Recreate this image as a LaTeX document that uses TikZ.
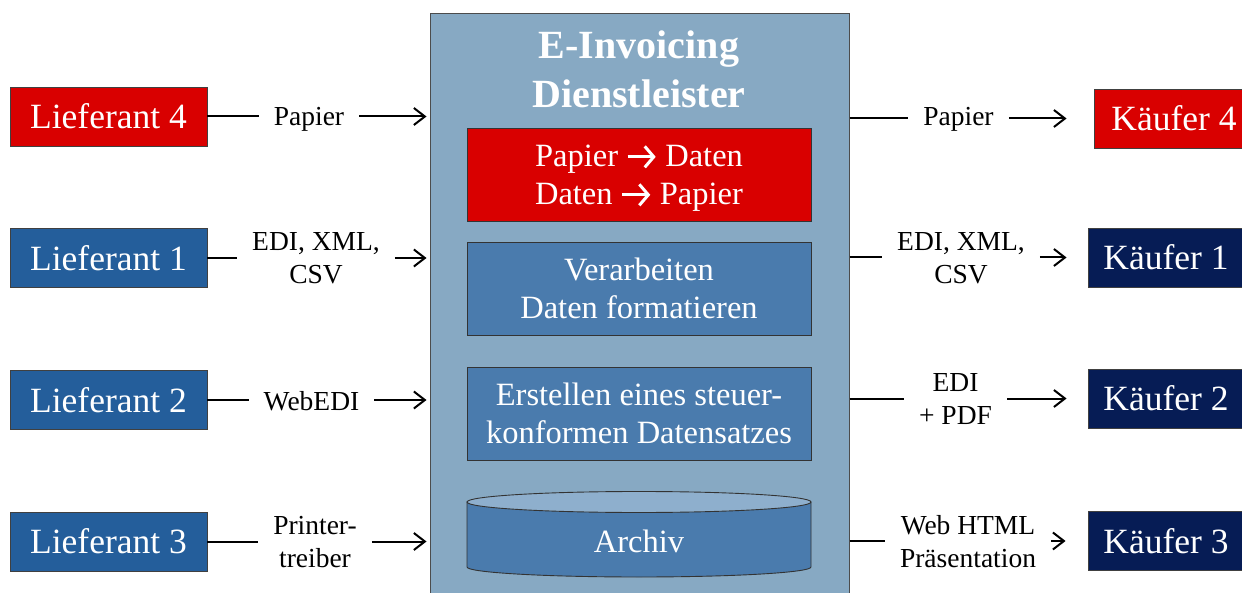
\documentclass[tikz,border=0pt]{standalone}
\usepackage{fontspec}
\setmainfont{Liberation Serif}
\usetikzlibrary{arrows.meta}

\definecolor{redc}{HTML}{D90000}
\definecolor{suppblue}{HTML}{245E9B}
\definecolor{buyernavy}{HTML}{061C55}
\definecolor{hubbg}{HTML}{87A9C3}
\definecolor{stageblue}{HTML}{4A7BAD}
\definecolor{cyltop}{HTML}{8EAFCD}

% heavy arrow used inside the conversion box text
\newcommand\convarrow{\tikz[baseline=0pt, x=1pt, y=1pt]
  \draw[white, line width=3pt, line cap=butt,
        -{Straight Barb[length=9pt, width=21pt]}] (0,10) -- (28,10);}

\tikzset{
  party/.style={draw=black!75, line width=0.9pt, text=white,
    font=\fontsize{35.5}{40}\selectfont, minimum height=59pt, inner sep=0pt},
  supplier/.style={party, fill=suppblue, minimum width=197pt},
  buyer/.style={party, fill=buyernavy, minimum width=156pt},
  hub/.style={draw=black!70, line width=1pt, fill=hubbg, inner sep=0pt,
    minimum width=419pt, minimum height=606pt},
  hubtitle/.style={text=white, font=\bfseries\fontsize{40}{49}\selectfont,
    align=center, inner sep=0pt},
  stage/.style={draw=black!80, line width=0.9pt, fill=stageblue, text=white,
    font=\fontsize{32.5}{38}\selectfont, align=center, inner sep=0pt,
    minimum width=344pt, minimum height=93pt},
  stagetext/.style={text=white, font=\fontsize{32.5}{38}\selectfont,
    align=center, inner sep=0pt},
  medium/.style={font=\fontsize{27.5}{33}\selectfont, align=center,
    inner xsep=15pt, inner ysep=0pt},
  link/.style={line width=2pt},
  flow/.style={line width=2pt, -{Straight Barb[length=11pt,width=17pt]}},
}

\begin{document}
\begin{tikzpicture}[x=1pt, y=-1pt]
\useasboundingbox (0,0) rectangle (1242,593);

% service provider in the middle
\node[hub] (C) at (639.5,317) {};
\node[hubtitle] (T) at (639,69) {E-Invoicing\\Dienstleister};

\node[stage, fill=redc] (conv) at (639,174.5) {};
\node[stagetext] (convtext) at (639,178.3)
  {Papier \convarrow{} Daten\\Daten \convarrow{} Papier};
\node[stage] (proc) at (639,288.5) {Verarbeiten\\Daten formatieren};
\node[stage] (tax) at (639,413.5) {Erstellen eines steuer-\\konformen Datensatzes};

% archive drum
\path[draw=black!80, line width=0.9pt, fill=stageblue]
  (467,502) -- (467,567)
  .. controls (467,572.5) and (544,577) .. (639,577)
  .. controls (734,577) and (811,572.5) .. (811,567)
  -- (811,502) -- cycle;
\path[draw=black!80, line width=0.9pt, fill=cyltop]
  (639,502) ellipse [x radius=172pt, y radius=10.5pt];
\node[stagetext, anchor=base] (arch) at (639,552) {Archiv};

% suppliers
\node[supplier, fill=redc] (L4) at (108.5,116.5) {Lieferant 4};
\node[supplier] (L1) at (108.5,258) {Lieferant 1};
\node[supplier] (L2) at (108.5,400) {Lieferant 2};
\node[supplier] (L3) at (108.5,541.5) {Lieferant 3};

% buyers
\node[buyer, fill=redc, minimum width=160pt] (K4) at (1174,118.5) {Käufer 4};
\node[buyer] (K1) at (1166,257.5) {Käufer 1};
\node[buyer] (K2) at (1166,398.5) {Käufer 2};
\node[buyer] (K3) at (1166,541) {Käufer 3};

% channel labels, inbound
\node[medium] (m4) at (309,119.5) {Papier};
\node[medium] (m1) at (316,258) {EDI, XML,\\CSV};
\node[medium] (m2) at (311.5,401) {WebEDI};
\node[medium] (m3) at (315,542) {Printer-\\treiber};

% channel labels, outbound
\node[medium] (n4) at (958.5,119.5) {Papier};
\node[medium] (n1) at (961,258) {EDI, XML,\\CSV};
\node[medium] (n2) at (955.5,399) {EDI\\+ PDF};
\node[medium] (n3) at (968,541.5) {Web HTML\\Präsentation};

% inbound connectors
\foreach \s/\m in {L4/m4, L1/m1, L2/m2, L3/m3} {
  \draw[link] (\s.east) -- (\s.east -| \m.west);
  \draw[flow, shorten >=3pt] (\s.east -| \m.east) -- (\s.east -| C.west);
}

% outbound connectors
\foreach \b/\m/\gap in {K4/n4/27pt, K1/n1/21pt, K2/n2/21pt, K3/n3/22pt} {
  \draw[link] (\b.west -| C.east) -- (\b.west -| \m.west);
  \draw[flow, shorten >=\gap] (\b.west -| \m.east) -- (\b.west);
}
\end{tikzpicture}
\end{document}
